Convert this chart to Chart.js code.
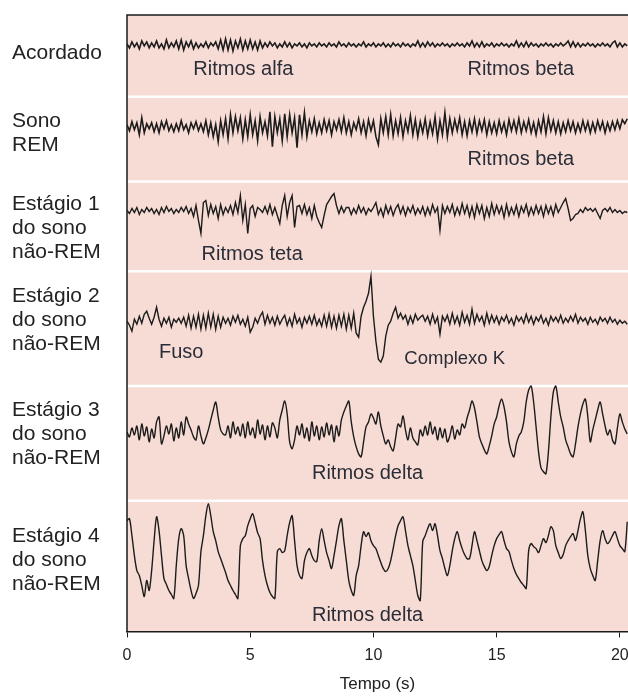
<!DOCTYPE html>
<html>
<head>
<meta charset="utf-8">
<script src="https://cdn.jsdelivr.net/npm/chart.js@4.4.0/dist/chart.umd.min.js"></script>
<style>
  body { margin: 0; background: #fff; }
</style>
</head>
<body>
<canvas id="eegChart" width="628" height="696"></canvas>
<script>
// Amostras a cada 0,1 s (0 a 20,3 s), amplitude relativa à linha de base de cada canal
const passoTempo = 0.1;

const acordado = [
  1,-3,3,-2,2,-4,4,-1,3,-3,
  2,-2,4,-3,1,-4,5,-3,2,-2,
  4,-4,5,-5,3,-2,4,-4,2,-3,
  1,-2,3,-3,2,-1,3,-4,5,-5,
  6,-5,5,-6,4,-3,6,-5,4,-4,
  5,-4,3,-5,4,-3,2,-2,3,-1,
  2,-3,1,-2,3,-2,2,-3,1,-1,
  2,-2,1,-3,2,-1,1,-2,2,-1,
  1,-2,2,-1,1,-2,3,-1,1,-2,
  2,-1,1,-2,1,-1,3,-2,1,-1,
  2,-2,1,-1,2,-2,1,-2,2,-1,
  1,-2,2,-1,1,-2,1,-1,4,-2,
  2,-2,3,-1,2,-2,1,-1,2,-1,
  1,-2,1,-1,2,-1,1,-2,2,-1,
  4,-2,2,-2,3,-2,1,-1,2,-2,
  1,-1,2,-1,1,-2,1,-1,4,-2,
  2,-2,3,-2,2,-1,1,-2,1,-1,
  2,-1,1,-2,1,-1,2,-1,1,4,
  -2,3,-2,2,-2,1,-1,2,-1,1,
  -2,1,-1,2,-1,1,-2,2,4,-2,
  2,-2,1,-1
];

const sonoREM = [
  2,-4,5,-3,4,-8,9,-6,3,-2,
  4,-5,3,-6,5,-2,6,-4,2,-5,
  3,-4,6,-3,2,-6,4,-2,5,-4,
  3,-5,6,-8,4,-10,2,-15,6,-8,
  8,-12,12,-6,10,-4,9,-12,7,-10,
  12,-8,6,-14,10,-6,5,-9,15,-20,
  10,-6,8,-14,13,-10,12,-6,9,-21,
  12,-8,14,-10,6,-5,8,-7,4,-6,
  7,-4,6,-8,5,-3,7,-5,9,-6,
  5,-8,4,-3,8,-6,5,-9,7,-4,
  6,-10,-18,8,-6,10,-8,12,-9,6,
  -7,9,-10,6,-5,11,-8,7,-10,5,
  -6,8,-9,5,-7,10,-12,6,-8,14,
  -10,8,-6,7,-4,9,-8,5,-9,6,
  -5,8,-7,6,-4,7,-8,5,-6,4,
  -7,6,-5,4,-8,7,-4,6,-5,8,
  -6,5,-4,7,-6,4,-8,6,-5,10,
  -7,9,-4,6,-6,5,-7,4,-5,6,
  -4,5,-6,3,-5,6,-4,5,-6,4,
  -5,6,-3,5,-6,4,-4,5,-3,6,
  -2,7,3,8
];

const estagio1 = [
  0,-3,2,-2,3,-4,1,-2,3,-1,
  2,-3,1,-4,3,-2,4,-1,2,-3,
  1,-2,3,-1,4,-3,2,-6,5,-10,
  -23,8,10,-5,6,-3,4,-8,6,-4,
  3,-2,5,-4,8,-2,15,-10,6,-23,
  2,5,-6,3,1,-2,4,-3,6,-4,
  3,-5,-13,5,15,-6,8,15,-17,4,
  5,-3,6,-4,3,-8,5,-6,-12,-17,
  -5,6,10,14,17,5,-3,4,-2,3,
  3,-4,2,-3,5,-2,3,-4,2,-1,
  3,8,-4,2,-6,5,-3,4,-5,2,
  6,-3,4,-5,3,-2,5,-4,2,-3,
  4,-5,3,-4,6,-2,3,-20,5,-3,
  4,-2,6,-5,3,-4,7,-3,5,-6,
  4,-7,6,-3,5,-8,3,-6,7,-4,
  5,-3,4,-7,6,-5,3,-4,5,-6,
  4,-2,6,-5,3,-4,5,-3,4,-6,
  5,-3,4,-5,6,-2,3,8,12,2,
  -10,-8,-4,-3,1,-2,3,0,2,-1,
  2,-3,-8,0,2,-1,3,-2,1,-2,
  0,-3,-1,-2
];

const estagio2 = [
  0,-4,-10,2,-3,5,-2,7,10,3,
  -3,4,14,2,-5,3,-2,4,-6,2,
  -1,3,-2,4,-5,6,-7,5,-6,7,
  -8,6,-7,8,-6,7,-8,5,-6,4,
  -2,3,-4,5,-1,6,-3,2,-5,4,
  -11,-6,3,-2,5,9,-3,6,-2,4,
  -4,5,-3,2,6,-4,3,-5,7,-2,
  3,-6,4,-2,5,-3,6,-4,2,-5,
  6,-5,7,-6,5,-7,6,-5,7,-8,
  6,-7,8,-12,-16,5,14,20,28,45,
  5,-20,-38,-41,-35,-15,-4,0,8,14,
  3,8,2,6,-3,5,-2,7,1,4,
  6,0,5,-3,7,-2,4,-13,5,0,
  6,-3,8,-2,5,-4,9,-1,6,-3,
  12,-2,7,0,5,-4,8,-2,6,-1,
  5,-3,4,0,6,-2,3,-4,5,0,
  4,-2,7,-1,5,-3,4,0,6,-2,
  3,-4,5,0,4,-1,6,-2,3,-1,
  5,0,7,-2,4,0,3,-3,4,-1,
  2,-3,4,0,3,-2,4,-1,2,-3,
  1,-2,0,-3
];

const estagio3 = [
  0,-5,4,-3,6,-8,8,-4,5,-10,
  3,-6,10,15,-12,-4,6,-2,8,-9,
  4,-6,10,-3,15,8,2,-5,-8,6,
  -4,-12,-6,2,12,22,30,15,2,-2,
  -3,6,-6,10,-2,5,-4,8,-6,10,
  -3,4,-6,12,-2,7,-8,6,-5,9,
  4,-6,12,22,31,18,-10,-17,-8,6,
  -3,8,-6,4,-9,10,-4,6,-8,5,
  -5,9,-3,7,-10,6,-4,12,20,26,
  31,10,-5,-15,-22,-25,-10,5,10,18,
  14,8,20,6,-4,-12,-8,-15,-19,-6,
  8,5,16,2,-8,4,-6,-10,-13,2,
  -4,6,-3,10,-2,5,-8,4,-6,3,
  -10,-4,6,-7,2,-3,8,4,14,22,
  31,24,10,-5,-12,-18,-22,-14,-4,8,
  15,26,33,25,10,-10,-20,-25,-12,-4,
  0,10,30,42,46,30,5,-20,-36,-40,
  -42,-20,15,40,46,30,15,5,-8,-15,
  -22,-25,-12,5,18,28,33,15,-10,2,
  12,22,30,18,6,-3,2,-8,-12,4,
  18,10,3,-2
];

const estagio4 = [
  40,42,25,5,-10,-15,-25,-36,-20,-30,
  -10,20,44,30,5,-18,-24,-30,-34,-38,
  -5,22,32,25,-5,-18,-30,-38,-33,-25,
  9,25,45,57,45,29,20,9,2,-5,
  -12,-20,-25,-30,-34,-38,15,22,25,35,
  42,47,38,28,22,0,-15,-25,-32,-36,
  -38,9,12,8,10,25,38,45,20,-5,
  -15,-18,0,8,12,5,0,-1,20,32,
  20,8,0,-8,5,20,35,42,20,0,
  -20,-30,-35,-15,-5,15,29,24,28,20,
  15,12,5,-2,-8,-11,-8,0,12,25,
  35,40,44,30,15,5,-5,-20,-35,-40,
  19,25,32,37,30,37,25,10,2,-8,
  -15,-5,10,22,29,20,12,6,2,2,
  15,29,20,10,0,-6,-10,-6,5,15,
  22,26,29,20,12,9,0,-8,-14,-18,
  -22,-25,-28,10,17,14,12,8,15,22,
  18,25,34,30,15,8,2,6,15,20,
  24,27,20,30,42,49,30,5,-8,-15,
  -20,0,20,30,22,17,20,25,29,22,
  15,12,9,39
];

const canais = [acordado, sonoREM, estagio1, estagio2, estagio3, estagio4];
const linhaBase = [588, 506, 422, 311, 200, 71];
const separadores = [536, 451, 361, 246, 131];
const marcasTempo = [0, 5, 10, 15, 20];

const rotulosCanais = [
  ['Acordado'],
  ['Sono', 'REM'],
  ['Estágio 1', 'do sono', 'não-REM'],
  ['Estágio 2', 'do sono', 'não-REM'],
  ['Estágio 3', 'do sono', 'não-REM'],
  ['Estágio 4', 'do sono', 'não-REM']
];
const centroRotulos = [580, 499, 404, 312, 198, 71];

const anotacoes = [
  ['Ritmos alfa', 4.72, 563],
  ['Ritmos beta', 15.98, 563],
  ['Ritmos beta', 15.98, 473],
  ['Ritmos teta', 5.08, 378],
  ['Fuso', 2.2, 280],
  ['Complexo K', 13.3, 273],
  ['Ritmos delta', 9.76, 158],
  ['Ritmos delta', 9.76, 16]
];

const fonte = '"Liberation Sans", Arial, sans-serif';

const datasets = canais.map((valores, k) => ({
  data: valores.map((v, i) => ({ x: i * passoTempo, y: linhaBase[k] + v })),
  borderColor: '#1c1c1c',
  borderWidth: k < 2 ? 1.6 : 1.4,
  pointRadius: 0,
  tension: k >= 4 ? 0.3 : 0,
  fill: false
}));

const fundoPlugin = {
  id: 'fundo',
  beforeDraw(chart) {
    const { ctx, chartArea: a, scales: { y } } = chart;
    ctx.save();
    ctx.fillStyle = '#f7dcd5';
    ctx.fillRect(a.left, a.top, a.right - a.left, a.bottom - a.top);
    ctx.strokeStyle = '#ffffff';
    ctx.lineWidth = 2.5;
    separadores.forEach(v => {
      const py = y.getPixelForValue(v);
      ctx.beginPath();
      ctx.moveTo(a.left, py);
      ctx.lineTo(a.right, py);
      ctx.stroke();
    });
    ctx.restore();
  },
  afterDraw(chart) {
    const { ctx, chartArea: a, scales: { x, y } } = chart;
    ctx.save();
    // bordas esquerda e superior
    ctx.strokeStyle = '#1a1a1a';
    ctx.lineWidth = 1.5;
    ctx.beginPath();
    ctx.moveTo(a.right, a.top);
    ctx.lineTo(a.left, a.top);
    ctx.lineTo(a.left, a.bottom);
    ctx.stroke();

    // rótulos dos canais
    ctx.fillStyle = '#222';
    ctx.font = '21px ' + fonte;
    ctx.textAlign = 'left';
    ctx.textBaseline = 'middle';
    rotulosCanais.forEach((linhas, k) => {
      const cy = y.getPixelForValue(centroRotulos[k]);
      const topo = cy - (linhas.length - 1) * 12;
      linhas.forEach((txt, j) => ctx.fillText(txt, 12, topo + j * 24));
    });

    // anotações dentro do gráfico
    ctx.fillStyle = '#2a2d38';
    ctx.textAlign = 'center';
    anotacoes.forEach(([txt, t, v]) => {
      ctx.font = (txt === 'Complexo K' ? '18.5px ' : '20px ') + fonte;
      ctx.fillText(txt, x.getPixelForValue(t), y.getPixelForValue(v));
    });
    ctx.restore();
  }
};

new Chart(document.getElementById('eegChart'), {
  type: 'line',
  data: { datasets },
  plugins: [fundoPlugin],
  options: {
    responsive: false,
    animation: false,
    layout: { padding: { left: 127, top: 15, right: 0, bottom: 0 } },
    plugins: {
      legend: { display: false },
      tooltip: { enabled: false }
    },
    scales: {
      x: {
        type: 'linear',
        min: 0,
        max: 20.33,
        afterBuildTicks: s => { s.ticks = marcasTempo.map(v => ({ value: v })); },
        afterFit: s => { s.paddingLeft = 0; s.paddingRight = 0; },
        grid: { drawOnChartArea: false, drawTicks: true, tickLength: 6, color: '#1a1a1a' },
        border: { color: '#1a1a1a', width: 1.5 },
        ticks: { font: { family: fonte, size: 16 }, color: '#222', padding: 9, maxRotation: 0 },
        title: {
          display: true,
          text: 'Tempo (s)',
          font: { family: fonte, size: 17 },
          color: '#222',
          padding: { top: 0, bottom: 1 }
        }
      },
      y: {
        display: false,
        min: 0,
        max: 618
      }
    }
  }
});
</script>
</body>
</html>
